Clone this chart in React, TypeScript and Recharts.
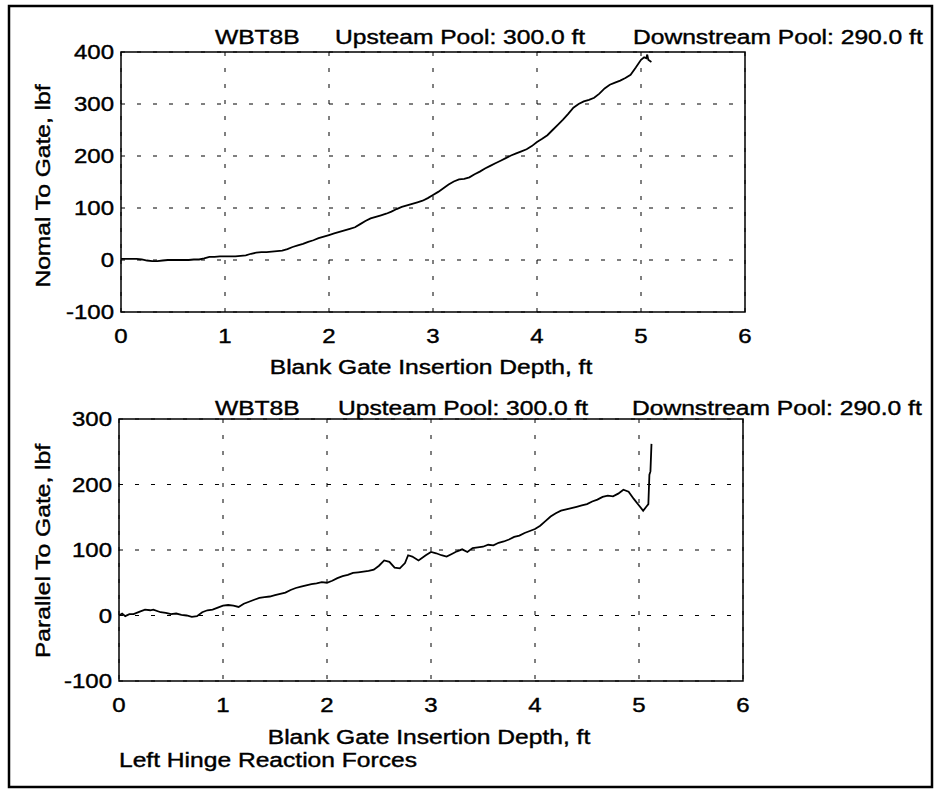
import { CartesianGrid, Line, LineChart, ReferenceArea, XAxis, YAxis } from "recharts";

const normalDepth = [
  0, 0.05, 0.1, 0.15, 0.2, 0.25, 0.3, 0.35, 0.4, 0.45, 0.5, 0.55, 0.6, 0.65, 0.7, 0.75, 0.8, 0.85, 0.9, 0.95,
  1.0, 1.05, 1.1, 1.15, 1.2, 1.25, 1.3, 1.35, 1.4, 1.45, 1.5, 1.55, 1.6, 1.65, 1.7, 1.75, 1.8, 1.85, 1.9, 1.95,
  2.0, 2.05, 2.1, 2.15, 2.2, 2.25, 2.3, 2.35, 2.4, 2.45, 2.5, 2.55, 2.6, 2.65, 2.7, 2.75, 2.8, 2.85, 2.9, 2.95,
  3.0, 3.05, 3.1, 3.15, 3.2, 3.25, 3.3, 3.35, 3.4, 3.45, 3.5, 3.55, 3.6, 3.65, 3.7, 3.75, 3.8, 3.85, 3.9, 3.95,
  4.0, 4.05, 4.1, 4.15, 4.2, 4.25, 4.3, 4.35, 4.4, 4.45, 4.5, 4.55, 4.6, 4.65, 4.7, 4.75, 4.8, 4.85, 4.9, 4.95,
  5.0, 5.03, 5.05, 5.06, 5.07, 5.1
];
const normalForce = [
  2, 2, 2, 2, 1, -1, -2, -2, -1, 0, 0, 0, 0, 0, 1, 1, 3, 6, 6, 7,
  7, 7, 7, 8, 9, 12, 14, 15, 15, 16, 17, 18, 21, 25, 28, 31, 35, 38, 42, 45,
  48, 51, 54, 57, 60, 63, 69, 75, 80, 83, 86, 89, 93, 98, 102, 105, 108, 111, 114, 119,
  125, 131, 138, 145, 151, 155, 156, 159, 165, 170, 176, 181, 186, 191, 196, 201, 205, 209, 213, 219,
  227, 233, 240, 250, 260, 270, 281, 293, 300, 305, 308, 312, 320, 330, 337, 341, 345, 350, 356, 370,
  385, 390, 388, 395, 385, 381
];

const parallelDepth = [
  0, 0.03, 0.06, 0.1, 0.14, 0.2, 0.25, 0.3, 0.33, 0.4, 0.45, 0.5, 0.55, 0.6, 0.65, 0.7, 0.75, 0.8, 0.85, 0.9,
  0.95, 1.0, 1.05, 1.1, 1.15, 1.2, 1.25, 1.3, 1.35, 1.4, 1.45, 1.5, 1.55, 1.6, 1.65, 1.7, 1.75, 1.8, 1.85, 1.9,
  1.95, 2.0, 2.05, 2.1, 2.15, 2.2, 2.25, 2.3, 2.35, 2.4, 2.45, 2.5, 2.55, 2.6, 2.65, 2.7, 2.75, 2.78, 2.82, 2.88,
  2.95, 3.0, 3.05, 3.1, 3.15, 3.2, 3.25, 3.3, 3.35, 3.4, 3.45, 3.5, 3.55, 3.6, 3.65, 3.7, 3.75, 3.8, 3.85, 3.9,
  3.95, 4.0, 4.05, 4.1, 4.15, 4.2, 4.25, 4.3, 4.35, 4.4, 4.45, 4.5, 4.55, 4.6, 4.65, 4.7, 4.75, 4.8, 4.85, 4.9,
  4.95, 5.0, 5.04, 5.07, 5.09, 5.1, 5.11, 5.12
];
const parallelForce = [
  0, 3, -1, 2, 2, 6, 9, 8, 9, 5, 4, 2, 3, 1, 0, -2, -1, 5, 8, 9,
  12, 15, 16, 15, 13, 18, 21, 24, 27, 28, 29, 31, 33, 35, 39, 42, 44, 46, 48, 49,
  51, 50, 53, 57, 60, 62, 65, 66, 67, 68, 70, 76, 84, 82, 73, 72, 80, 92, 90, 84,
  92, 97, 95, 92, 90, 94, 98, 101, 97, 103, 104, 105, 108, 107, 111, 113, 116, 120, 122, 126,
  129, 132, 137, 144, 151, 156, 160, 162, 164, 166, 168, 170, 174, 177, 181, 183, 182, 186, 192, 189,
  178, 168, 160, 166, 170, 215, 220, 262
];

const depthTicks = [0, 1, 2, 3, 4, 5, 6];
const normalTicks = [-100, 0, 100, 200, 300, 400];
const parallelTicks = [-100, 0, 100, 200, 300];

const runName = "WBT8B";
const upstreamText = "Upsteam Pool: 300.0 ft";
const downstreamText = "Downstream Pool: 290.0 ft";
const xLabel = "Blank Gate Insertion Depth, ft";
const normalLabel = "Nomal To Gate, lbf";
const parallelLabel = "Parallel To Gate, lbf";
const caption = "Left Hinge Reaction Forces";

const FONT = '"Liberation Sans", Arial, Helvetica, sans-serif';
const SX = 1.23;

const normalData = normalDepth.map((x, i) => ({ x, y: normalForce[i] }));
const parallelData = parallelDepth.map((x, i) => ({ x, y: parallelForce[i] }));

// scanned-looking text: a touch of stroke makes it heavier
const inkStyle = { stroke: "#000", strokeWidth: 0.4 };

function XTick(p: any) {
  return (
    <text
      transform={`translate(${p.x},${p.y}) scale(1.2,1)`}
      textAnchor="middle"
      dy="0.71em"
      fontSize={20}
      fontFamily={FONT}
      fill="#000"
      style={inkStyle}
    >
      {p.payload.value}
    </text>
  );
}

function YTick(p: any) {
  return (
    <text
      transform={`translate(${p.x},${p.y}) scale(1.2,1)`}
      textAnchor="end"
      dy="0.355em"
      fontSize={20}
      fontFamily={FONT}
      fill="#000"
      style={inkStyle}
    >
      {p.payload.value}
    </text>
  );
}

function Label({ x, y, anchor = "start", vertical = false, children }: any) {
  const t = vertical
    ? `translate(${x},${y}) rotate(-90) scale(${SX},1)`
    : `translate(${x},${y}) scale(${SX},1)`;
  return (
    <text transform={t} textAnchor={anchor} fontSize={20} fontFamily={FONT} fill="#000" style={inkStyle}>
      {children}
    </text>
  );
}

type PanelProps = {
  data: { x: number; y: number }[];
  ticks: number[];
  height: number;
  margin: { top: number; right: number; left: number; bottom: number };
  yWidth: number;
  xHeight: number;
};

function Panel({ data, ticks, height, margin, yWidth, xHeight }: PanelProps) {
  const lo = ticks[0];
  const hi = ticks[ticks.length - 1];
  return (
    <LineChart width={937} height={height} data={data} margin={margin}>
      <CartesianGrid stroke="#000" strokeDasharray="4 12" strokeWidth={1} />
      <XAxis
        dataKey="x"
        type="number"
        domain={[0, 6]}
        ticks={depthTicks}
        allowDataOverflow
        axisLine={false}
        tickLine={false}
        tickSize={8}
        tickMargin={9}
        height={xHeight}
        tick={<XTick />}
        interval={0}
      />
      <YAxis
        type="number"
        domain={[lo, hi]}
        ticks={ticks}
        allowDataOverflow
        axisLine={false}
        tickLine={false}
        tickSize={4}
        tickMargin={3}
        width={yWidth}
        tick={<YTick />}
        interval={0}
      />
      <ReferenceArea x1={0} x2={6} y1={lo} y2={hi} fill="none" stroke="#000" strokeWidth={1.5} />
      <Line
        type="linear"
        dataKey="y"
        stroke="#000"
        strokeWidth={1.8}
        dot={false}
        isAnimationActive={false}
      />
    </LineChart>
  );
}

export default function App() {
  return (
    <div style={{ position: "absolute", left: 0, top: 0, width: 937, height: 792, background: "#fff" }}>
      <div style={{ position: "absolute", left: 0, top: 0 }}>
        <Panel
          data={normalData}
          ticks={normalTicks}
          height={390}
          margin={{ top: 52, right: 192, left: 0, bottom: 0 }}
          yWidth={121}
          xHeight={78}
        />
      </div>
      <div style={{ position: "absolute", left: 0, top: 390 }}>
        <Panel
          data={parallelData}
          ticks={parallelTicks}
          height={402}
          margin={{ top: 29, right: 194, left: 0, bottom: 0 }}
          yWidth={119}
          xHeight={111}
        />
      </div>
      <svg
        width={937}
        height={792}
        style={{ position: "absolute", left: 0, top: 0, pointerEvents: "none" }}
      >
        <rect x={9} y={6} width={923} height={781} fill="none" stroke="#000" strokeWidth={2.5} />
        <Label x={215} y={44}>{runName}</Label>
        <Label x={335} y={44}>{upstreamText}</Label>
        <Label x={633} y={44}>{downstreamText}</Label>
        <Label x={431} y={374} anchor="middle">{xLabel}</Label>
        <Label x={50} y={186} anchor="middle" vertical>{normalLabel}</Label>

        <Label x={215} y={415}>{runName}</Label>
        <Label x={338} y={415}>{upstreamText}</Label>
        <Label x={632} y={415}>{downstreamText}</Label>
        <Label x={429} y={744} anchor="middle">{xLabel}</Label>
        <Label x={50} y={551} anchor="middle" vertical>{parallelLabel}</Label>
        <Label x={119} y={767}>{caption}</Label>
      </svg>
    </div>
  );
}
